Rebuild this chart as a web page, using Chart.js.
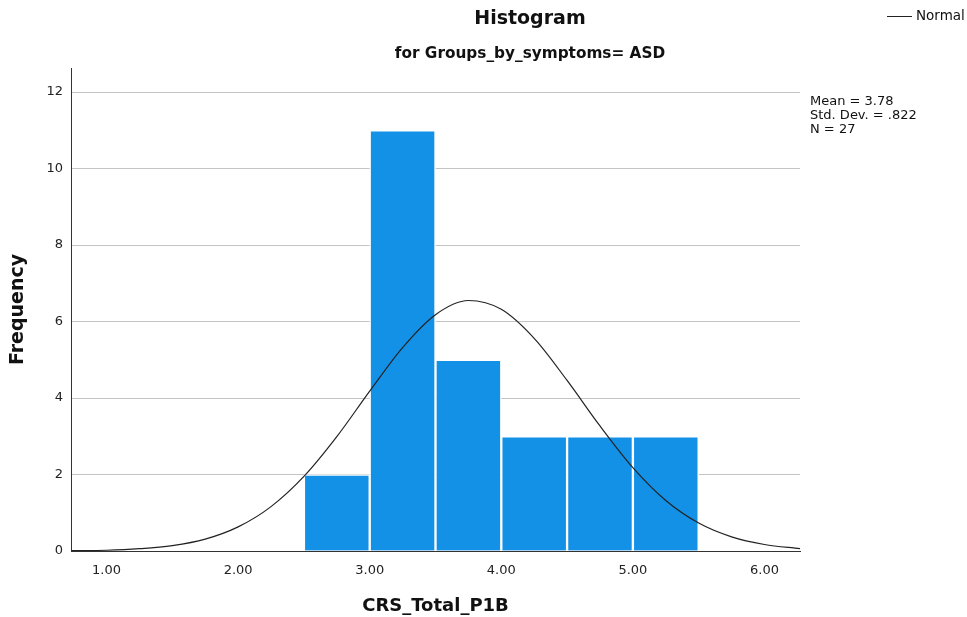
<!DOCTYPE html>
<html>
<head>
<meta charset="utf-8">
<title>Histogram</title>
<style>
  body { margin: 0; background: #fff; }
  #wrap { position: relative; width: 967px; height: 617px; font-family: "DejaVu Sans", sans-serif; color: #111; }
  #chart { position: absolute; left: 0; top: 0; }
  .title { position: absolute; left: 0; width: 1060px; text-align: center; font-weight: bold; }
  #t1 { top: 6px; font-size: 19px; }
  #t2 { top: 44px; font-size: 15.3px; }
  #legend { position: absolute; top: 7px; left: 887px; font-size: 13.5px; white-space: nowrap; }
  #legend span.line { display: inline-block; width: 25px; height: 0; border-top: 1.3px solid #222; vertical-align: middle; margin-right: 4px; }
  #stats { position: absolute; top: 94px; left: 810px; font-size: 13px; line-height: 14px; white-space: nowrap; }
</style>
<script src="https://cdn.jsdelivr.net/npm/chart.js"></script>
</head>
<body>
<div id="wrap">
  <canvas id="chart" width="967" height="617"></canvas>
  <div class="title" id="t1">Histogram</div>
  <div class="title" id="t2">for Groups_by_symptoms= ASD</div>
  <div id="legend"><span class="line"></span>Normal</div>
  <div id="stats">Mean = 3.78<br>Std. Dev. = .822<br>N = 27</div>
</div>
<script>
// histogram bins (centres) and counts
var binCenters = [2.75, 3.25, 3.75, 4.25, 4.75, 5.25];
var counts = [2, 11, 5, 3, 3, 3];

// normal curve
var curveX = [0.73, 1.0, 1.25, 1.5, 1.75, 2.0, 2.25, 2.5, 2.75, 3.0, 3.25, 3.5, 3.75,
              4.0, 4.25, 4.5, 4.75, 5.0, 5.25, 5.5, 5.75, 6.0, 6.27];
var curveY = [0.01, 0.02, 0.06, 0.14, 0.31, 0.63, 1.16, 1.95, 2.99, 4.18, 5.32, 6.18, 6.55,
              6.32, 5.56, 4.46, 3.27, 2.18, 1.32, 0.73, 0.37, 0.17, 0.06];

var xTicks = [1, 2, 3, 4, 5, 6];
var yTicks = [0, 2, 4, 6, 8, 10, 12];

var ctx = document.getElementById('chart').getContext('2d');
var chart = new Chart(ctx, {
  type: 'bar',
  data: {
    datasets: [{
      type: 'line',
      label: 'Normal',
      data: curveX.map(function (x, i) { return { x: x, y: curveY[i] }; }),
      borderColor: '#222',
      borderWidth: 1.2,
      pointRadius: 0,
      cubicInterpolationMode: 'monotone',
      fill: false,
      order: 0
    }, {
      type: 'bar',
      label: 'Frequency',
      data: binCenters.map(function (x, i) { return { x: x, y: counts[i] }; }),
      backgroundColor: '#1391e6',
      borderColor: 'rgba(255,255,255,0.9)',
      borderWidth: 1.5,
      barPercentage: 1,
      categoryPercentage: 1,
      grouped: false,
      order: 1
    }]
  },
  options: {
    responsive: false,
    animation: false,
    layout: { padding: { top: 68, right: 167, bottom: 0, left: 0 } },
    plugins: { legend: { display: false }, tooltip: { enabled: false } },
    scales: {
      x: {
        type: 'linear',
        offset: false,
        min: 0.73,
        max: 6.27,
        afterBuildTicks: function (scale) { scale.ticks = xTicks.map(function (v) { return { value: v }; }); },
        afterFit: function (scale) { scale.height = 66; },
        grid: { display: false, drawTicks: false },
        border: { display: true, color: '#333', width: 1 },
        ticks: {
          padding: 12,
          color: '#222',
          font: { family: 'DejaVu Sans', size: 13 },
          callback: function (v) { return v.toFixed(2); }
        },
        title: {
          display: true,
          text: 'CRS_Total_P1B',
          color: '#111',
          font: { family: 'DejaVu Sans', size: 18, weight: 'bold' },
          padding: { top: 9, bottom: 0 }
        }
      },
      y: {
        min: 0,
        max: 12.63,
        afterBuildTicks: function (scale) { scale.ticks = yTicks.map(function (v) { return { value: v }; }); },
        afterFit: function (scale) { scale.width = 71; },
        grid: { color: '#c4c4c4', lineWidth: 1, drawTicks: false },
        border: { display: true, color: '#333', width: 1 },
        ticks: {
          padding: 8,
          color: '#222',
          font: { family: 'DejaVu Sans', size: 13 }
        },
        title: {
          display: true,
          text: 'Frequency',
          color: '#111',
          font: { family: 'DejaVu Sans', size: 19, weight: 'bold' },
          padding: { top: 7, bottom: 6 }
        }
      }
    }
  }
});
</script>
</body>
</html>
